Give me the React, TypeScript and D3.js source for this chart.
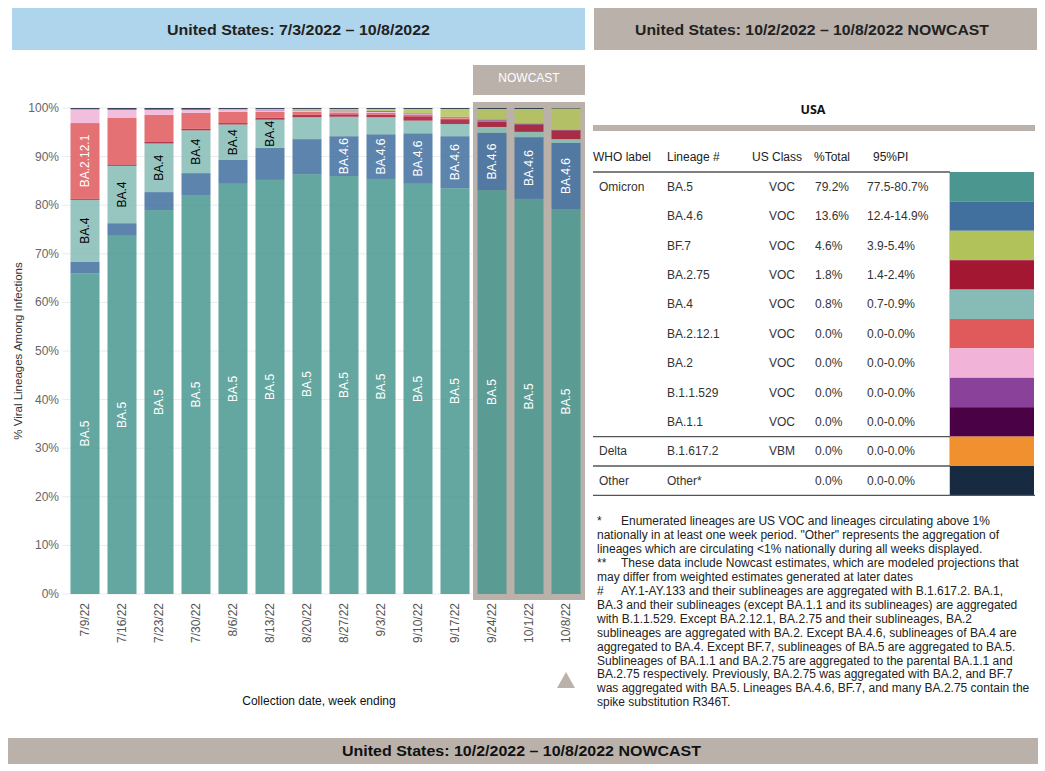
import React from "react";
import * as d3 from "d3";

const weeks = ["7/9/22","7/16/22","7/23/22","7/30/22","8/6/22","8/13/22","8/20/22","8/27/22","9/3/22","9/10/22","9/17/22","9/24/22","10/1/22","10/8/22"];

// stacked from bottom to top
const seriesNames = ["BA.5","BA.4.6","BA.4","BA.2.75","BA.2.12.1","BA.2","B.1.1.529","BA.1.1","B.1.617.2","BF.7","Other"];
const ba5 =      [66.0, 73.7, 79.0, 82.1, 84.4, 85.2, 86.4, 86.0, 85.4, 84.4, 83.5, 83.1, 81.3, 79.2];
const ba46 =     [ 2.4,  2.6,  3.7,  4.5,  4.9,  6.6,  7.2,  8.2,  9.2, 10.4, 10.7, 11.8, 12.7, 13.6];
const ba4 =      [12.7, 11.8, 10.0,  8.8,  7.3,  5.8,  4.5,  4.0,  3.5,  2.6,  2.5,  1.2,  1.1,  0.8];
const ba275 =    [ 0.2,  0.3,  0.3,  0.3,  0.3,  0.4,  0.5,  0.5,  0.5,  0.9,  1.0,  1.1,  1.5,  1.8];
const ba2121 =   [15.6,  9.6,  5.6,  3.3,  2.3,  1.2,  0.6,  0.4,  0.4,  0.3,  0.2,  0.1,  0.0,  0.0];
const ba2 =      [ 2.8,  1.6,  1.0,  0.6,  0.4,  0.3,  0.2,  0.2,  0.2,  0.1,  0.1,  0.1,  0.0,  0.0];
const b11529 =   [ 0.1,  0.1,  0.1,  0.1,  0.1,  0.1,  0.1,  0.2,  0.2,  0.2,  0.2,  0.2,  0.2,  0.1];
const ba11 =     [ 0.0,  0.0,  0.0,  0.0,  0.0,  0.0,  0.0,  0.0,  0.0,  0.0,  0.0,  0.0,  0.0,  0.0];
const b16172 =   [ 0.0,  0.0,  0.0,  0.0,  0.0,  0.0,  0.0,  0.0,  0.0,  0.0,  0.0,  0.0,  0.0,  0.0];
const bf7 =      [ 0.0,  0.0,  0.0,  0.0,  0.1,  0.2,  0.3,  0.3,  0.4,  0.9,  1.6,  2.2,  3.0,  4.4];
const other =    [ 0.2,  0.3,  0.3,  0.3,  0.2,  0.2,  0.2,  0.2,  0.2,  0.2,  0.2,  0.2,  0.2,  0.1];
const seriesValues = [ba5, ba46, ba4, ba275, ba2121, ba2, b11529, ba11, b16172, bf7, other];

const colorOf: Record<string, string> = {
  "BA.5": "#4b9790",
  "BA.4.6": "#41709f",
  "BF.7": "#b2c25a",
  "BA.2.75": "#a31733",
  "BA.4": "#86bcb5",
  "BA.2.12.1": "#e05a5c",
  "BA.2": "#f1b3d8",
  "B.1.1.529": "#8a419a",
  "BA.1.1": "#4b0145",
  "B.1.617.2": "#f0902e",
  "Other": "#172a40",
};
const labelColor: Record<string, string> = { "BA.5": "#fff", "BA.4.6": "#fff", "BA.4": "#000", "BA.2.12.1": "#fff" };

const yTicks = [0, 10, 20, 30, 40, 50, 60, 70, 80, 90, 100];
const nowcastWeeks = ["9/24/22", "10/1/22", "10/8/22"];

// table
const tableWho = ["Omicron", "", "", "", "", "", "", "", "", "Delta", "Other"];
const tableLineage = ["BA.5", "BA.4.6", "BF.7", "BA.2.75", "BA.4", "BA.2.12.1", "BA.2", "B.1.1.529", "BA.1.1", "B.1.617.2", "Other*"];
const tableClass = ["VOC", "VOC", "VOC", "VOC", "VOC", "VOC", "VOC", "VOC", "VOC", "VBM", ""];
const tableTotal = ["79.2%", "13.6%", "4.6%", "1.8%", "0.8%", "0.0%", "0.0%", "0.0%", "0.0%", "0.0%", "0.0%"];
const tablePI = ["77.5-80.7%", "12.4-14.9%", "3.9-5.4%", "1.4-2.4%", "0.7-0.9%", "0.0-0.0%", "0.0-0.0%", "0.0-0.0%", "0.0-0.0%", "0.0-0.0%", "0.0-0.0%"];
const tableColorKey = ["BA.5", "BA.4.6", "BF.7", "BA.2.75", "BA.4", "BA.2.12.1", "BA.2", "B.1.1.529", "BA.1.1", "B.1.617.2", "Other"];

const footLines: [string, string][] = [
  ["*", "Enumerated lineages are US VOC and lineages circulating above 1%"],
  ["", "nationally in at least one week period. \"Other\" represents the aggregation of"],
  ["", "lineages which are circulating <1% nationally during all weeks displayed."],
  ["**", "These data include Nowcast estimates, which are modeled projections that"],
  ["", "may differ from weighted estimates generated at later dates"],
  ["#", "AY.1-AY.133 and their sublineages are aggregated with B.1.617.2. BA.1,"],
  ["", "BA.3 and their sublineages (except BA.1.1 and its sublineages) are aggregated"],
  ["", "with B.1.1.529. Except BA.2.12.1, BA.2.75 and their sublineages, BA.2"],
  ["", "sublineages are aggregated with BA.2. Except BA.4.6, sublineages of BA.4 are"],
  ["", "aggregated to BA.4. Except BF.7, sublineages of BA.5 are aggregated to BA.5."],
  ["", "Sublineages of BA.1.1 and BA.2.75 are aggregated to the parental BA.1.1 and"],
  ["", "BA.2.75 respectively. Previously, BA.2.75 was aggregated with BA.2, and BF.7"],
  ["", "was aggregated with BA.5. Lineages BA.4.6, BF.7, and many BA.2.75 contain the"],
  ["", "spike substitution R346T."],
];

const FONT = "'Liberation Sans', Arial, sans-serif";
const NARROW = "'Liberation Sans Narrow', 'Liberation Sans', Arial, sans-serif";

function approxWidth(s: string) {
  let w = 0;
  for (const c of s) {
    if (c === ".") w += 3.3;
    else if (c === "B" || c === "A") w += 8;
    else w += 6.7;
  }
  return w;
}

export default function App() {
  const x = d3.scaleBand<string>().domain(weeks).range([66.5, 584.5]).paddingInner(0.216).paddingOuter(0.108);
  const y = d3.scaleLinear().domain([0, 100]).range([594, 108]);

  const rows = weeks.map((w, i) => {
    const r: any = { week: w };
    seriesNames.forEach((s, k) => (r[s] = seriesValues[k][i]));
    return r;
  });
  const stacked = d3.stack<any>().keys(seriesNames)(rows);

  const nx0 = (x(nowcastWeeks[0]) as number) - 4.5;
  const nx1 = (x(nowcastWeeks[nowcastWeeks.length - 1]) as number) + x.bandwidth() + 4.5;

  const rowTop = 172;
  const rowH = 29.4;
  const tblX0 = 593;
  const swX = 950;
  const swX1 = 1034;
  const triX = (x("10/8/22") as number) + x.bandwidth() / 2;

  return (
    <svg width={1045} height={771} style={{ position: "absolute", left: 0, top: 0, background: "#fff" }} fontFamily={FONT}>
      {/* banners */}
      <rect x={12} y={8} width={573} height={42} fill="#afd5ec" />
      <text x={298.5} y={29} textAnchor="middle" dominantBaseline="central" fontFamily={NARROW} fontWeight="bold" fontSize={15} fill="#222" textLength={263} lengthAdjust="spacingAndGlyphs">United States: 7/3/2022 – 10/8/2022</text>
      <rect x={594} y={8} width={443} height={42} fill="#bab1ab" />
      <text x={812} y={29} textAnchor="middle" dominantBaseline="central" fontFamily={NARROW} fontWeight="bold" fontSize={15} fill="#222" textLength={354} lengthAdjust="spacingAndGlyphs">United States: 10/2/2022 – 10/8/2022 NOWCAST</text>
      <rect x={8} y={738} width={1030} height={26} fill="#bab1ab" />
      <text x={521.5} y={751} textAnchor="middle" dominantBaseline="central" fontWeight="bold" fontSize={14.5} fill="#111" textLength={359} lengthAdjust="spacingAndGlyphs">United States: 10/2/2022 – 10/8/2022 NOWCAST</text>

      {/* nowcast label + background */}
      <rect x={nx0} y={65} width={nx1 - nx0} height={30} fill="#bab1ab" />
      <text x={(nx0 + nx1) / 2} y={78} textAnchor="middle" dominantBaseline="central" fontFamily={NARROW} fontSize={12} fill="#fff">NOWCAST</text>
      <rect x={nx0} y={102} width={nx1 - nx0} height={498} fill="#bab1ab" />

      {/* gridlines */}
      {yTicks.map((t) => (
        <g key={t}>
          <line x1={62} x2={nx0} y1={y(t)} y2={y(t)} stroke="#ececec" strokeWidth={1} />
          <text x={59} y={y(t)} textAnchor="end" dominantBaseline="central" fontSize={12} fill="#666">{t}%</text>
        </g>
      ))}
      <text transform={`translate(18,${y(50)}) rotate(-90)`} textAnchor="middle" dominantBaseline="central" fontSize={11.5} fill="#333">% Viral Lineages Among Infections</text>

      {/* bars */}
      {stacked.map((layer) => (
        <g key={layer.key} fill={colorOf[layer.key]} fillOpacity={0.86}>
          {layer.map((d, i) => {
            const h = y(d[0]) - y(Math.min(100, d[1]));
            if (h <= 0) return null;
            return <rect key={i} x={x(weeks[i])} y={y(Math.min(100, d[1]))} width={x.bandwidth()} height={h} />;
          })}
        </g>
      ))}
      {/* bar labels */}
      {stacked.map((layer) =>
        labelColor[layer.key]
          ? layer.map((d, i) => {
              const h = y(d[0]) - y(d[1]);
              if (h < approxWidth(layer.key) + 2) return null;
              const cx = (x(weeks[i]) as number) + x.bandwidth() / 2;
              const cy = (y(d[0]) + y(d[1])) / 2;
              return (
                <text key={layer.key + i} transform={`translate(${cx},${cy}) rotate(-90)`} textAnchor="middle" dominantBaseline="central" fontSize={12} fill={labelColor[layer.key]}>{layer.key}</text>
              );
            })
          : null
      )}

      {/* x axis */}
      {weeks.map((w) => {
        const cx = (x(w) as number) + x.bandwidth() / 2;
        return (
          <text key={w} transform={`translate(${cx},603) rotate(-90)`} textAnchor="end" dominantBaseline="central" fontSize={12} fill="#555">{w}</text>
        );
      })}
      <text x={319} y={701} textAnchor="middle" dominantBaseline="central" fontSize={12} fill="#111">Collection date, week ending</text>
      <path d={`M${triX - 9},688 L${triX + 9},688 L${triX},672 Z`} fill="#bab1ab" />

      {/* table */}
      <text x={813} y={109} textAnchor="middle" dominantBaseline="central" fontFamily="'Open Sans', 'Noto Sans', sans-serif" fontWeight="bold" fontSize={12.5} fill="#111">USA</text>
      <rect x={593} y={125} width={442} height={6} fill="#bab1ab" />
      <g fontSize={12} fill="#222">
        <text x={593} y={157} dominantBaseline="central">WHO label</text>
        <text x={667} y={157} dominantBaseline="central">Lineage #</text>
        <text x={752} y={157} dominantBaseline="central">US Class</text>
        <text x={814} y={157} dominantBaseline="central">%Total</text>
        <text x={873} y={157} dominantBaseline="central">95%PI</text>
      </g>
      {tableLineage.map((l, i) => {
        const cy = rowTop + rowH * i + rowH / 2;
        return (
          <g key={l} fontSize={12} fill="#333">
            <rect x={swX} y={rowTop + rowH * i} width={swX1 - swX} height={rowH} fill={colorOf[tableColorKey[i]]} />
            <text x={599} y={cy} dominantBaseline="central">{tableWho[i]}</text>
            <text x={667} y={cy} dominantBaseline="central">{l}</text>
            <text x={795} y={cy} textAnchor="end" dominantBaseline="central">{tableClass[i]}</text>
            <text x={815} y={cy} dominantBaseline="central">{tableTotal[i]}</text>
            <text x={867} y={cy} dominantBaseline="central">{tablePI[i]}</text>
          </g>
        );
      })}
      <line x1={swX - 0.5} x2={swX - 0.5} y1={rowTop} y2={rowTop + rowH * 11} stroke="#ccc" strokeWidth={1} />
      <line x1={tblX0} x2={swX} y1={rowTop} y2={rowTop} stroke="#555" strokeWidth={1.3} />
      <line x1={tblX0} x2={swX} y1={rowTop + rowH * 9} y2={rowTop + rowH * 9} stroke="#555" strokeWidth={1.3} />
      <line x1={tblX0} x2={swX} y1={rowTop + rowH * 10} y2={rowTop + rowH * 10} stroke="#555" strokeWidth={1.3} />
      <line x1={tblX0} x2={swX1 + 1} y1={rowTop + rowH * 11} y2={rowTop + rowH * 11} stroke="#555" strokeWidth={1.3} />

      {/* footnotes */}
      <g fontSize={12} fill="#222">
        {footLines.map(([m, t], i) => {
          const yy = 521 + i * 13.95;
          return (
            <g key={i}>
              {m ? <text x={597} y={yy} dominantBaseline="central">{m}</text> : null}
              <text x={m ? 621 : 597} y={yy} dominantBaseline="central">{t}</text>
            </g>
          );
        })}
      </g>
    </svg>
  );
}
